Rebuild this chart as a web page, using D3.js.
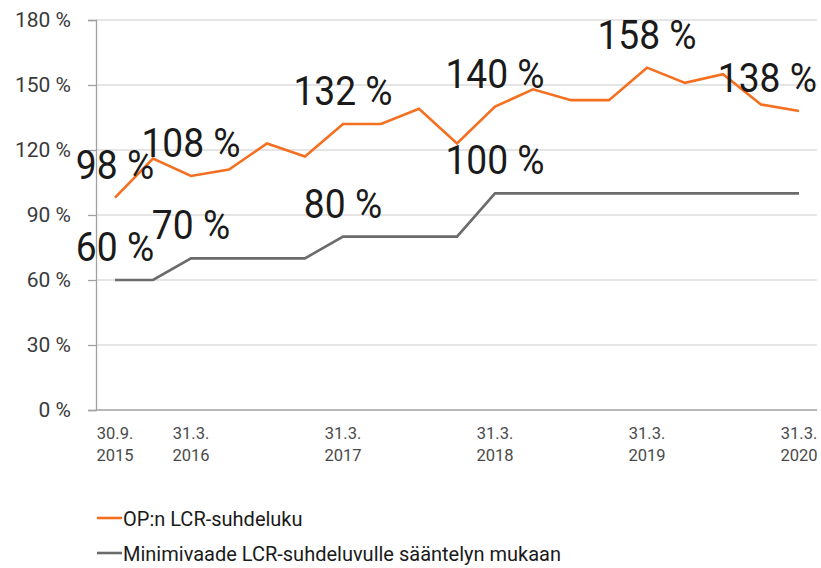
<!DOCTYPE html>
<html>
<head>
<meta charset="utf-8">
<script src="https://cdn.jsdelivr.net/npm/d3@7"></script>
<style>
  html, body { margin: 0; padding: 0; background: #fff; }
  svg { display: block; font-family: Roboto, "Open Sans", sans-serif; }
</style>
</head>
<body>
<svg id="chart" width="821" height="568"></svg>
<script>
// Quarter-end dates, 30.9.2015 – 31.3.2020
const quarters = [
  "30.9.2015", "31.12.2015", "31.3.2016", "30.6.2016", "30.9.2016", "31.12.2016",
  "31.3.2017", "30.6.2017", "30.9.2017", "31.12.2017", "31.3.2018", "30.6.2018",
  "30.9.2018", "31.12.2018", "31.3.2019", "30.6.2019", "30.9.2019", "31.12.2019",
  "31.3.2020"
];
// OP:n LCR-suhdeluku (%)
const lcrValues = [98, 116, 108, 111, 123, 117, 132, 132, 139, 123, 140, 148, 143, 143, 158, 151, 155, 141, 138];
// Minimivaade LCR-suhdeluvulle sääntelyn mukaan (%)
const minValues = [60, 60, 70, 70, 70, 70, 80, 80, 80, 80, 100, 100, 100, 100, 100, 100, 100, 100, 100];
// Quarters that carry a value label
const lcrLabelIdx = [0, 2, 6, 10, 14, 18];
const minLabelIdx = [0, 2, 6, 10];
// Axis tick labels
const yTicks = [0, 30, 60, 90, 120, 150, 180];
const xTickLabels = [
  { q: "30.9.2015", lines: ["30.9.", "2015"] },
  { q: "31.3.2016", lines: ["31.3.", "2016"] },
  { q: "31.3.2017", lines: ["31.3.", "2017"] },
  { q: "31.3.2018", lines: ["31.3.", "2018"] },
  { q: "31.3.2019", lines: ["31.3.", "2019"] },
  { q: "31.3.2020", lines: ["31.3.", "2020"] }
];
const seriesNames = ["OP:n LCR-suhdeluku", "Minimivaade LCR-suhdeluvulle sääntelyn mukaan"];

const ORANGE = "#f46f20";
const GREY = "#6b6b6b";

const svg = d3.select("#chart");
const plot = { left: 96, right: 818, top: 20, bottom: 410 };

const x = d3.scalePoint().domain(quarters).range([plot.left, plot.right]).padding(0.5);
const y = d3.scaleLinear().domain([0, 180]).range([plot.bottom, plot.top]);

// Horizontal gridlines
svg.append("g")
  .selectAll("line")
  .data(yTicks.filter(d => d > 0))
  .join("line")
  .attr("x1", plot.left).attr("x2", plot.right - 1)
  .attr("y1", d => y(d)).attr("y2", d => y(d))
  .attr("stroke", "#dcdcdc").attr("stroke-width", 1.3);

// Y axis
const yAxis = svg.append("g")
  .attr("transform", `translate(${plot.left},0)`)
  .call(d3.axisLeft(y).tickValues(yTicks).tickSize(8).tickPadding(17).tickFormat(d => d + " %"));
yAxis.select(".domain").attr("stroke", "#a0a0a0").attr("stroke-width", 1.3);
yAxis.selectAll(".tick line").attr("stroke", "#a0a0a0").attr("stroke-width", 1.3);
yAxis.selectAll(".tick text")
  .attr("font-family", "Roboto, sans-serif")
  .attr("font-size", 21).attr("fill", "#3a3a3a");

// X axis baseline
svg.append("line")
  .attr("x1", plot.left).attr("x2", plot.right - 1)
  .attr("y1", y(0)).attr("y2", y(0))
  .attr("stroke", "#a0a0a0").attr("stroke-width", 1.3);

// X tick labels (two lines each)
const xl = svg.append("g").selectAll("text")
  .data(xTickLabels)
  .join("text")
  .attr("x", d => x(d.q))
  .attr("text-anchor", "middle")
  .attr("font-size", 16.5).attr("fill", "#4a4a4a");
xl.each(function(d) {
  const t = d3.select(this);
  d.lines.forEach((ln, i) => {
    t.append("tspan").attr("x", x(d.q)).attr("y", 439 + i * 22).text(ln);
  });
});

// Lines
const line = d3.line().x((d, i) => x(quarters[i])).y(d => y(d));
svg.append("path").datum(minValues)
  .attr("d", line).attr("fill", "none")
  .attr("stroke", GREY).attr("stroke-width", 2.6).attr("stroke-linejoin", "miter");
svg.append("path").datum(lcrValues)
  .attr("d", line).attr("fill", "none")
  .attr("stroke", ORANGE).attr("stroke-width", 2.6).attr("stroke-linejoin", "miter");

// Value labels (slightly condensed)
function addLabels(values, idx) {
  svg.append("g").selectAll("text")
    .data(idx)
    .join("text")
    .attr("x", i => x(quarters[i]))
    .attr("y", i => y(values[i]) - 19)
    .attr("text-anchor", "middle")
    .attr("font-size", 40)
    .attr("fill", "#1a1a1a")
    .text(i => values[i] + " %")
    .each(function() {
      const sel = d3.select(this);
      const w = this.getComputedTextLength() * 0.93;
      sel.attr("textLength", w).attr("lengthAdjust", "spacingAndGlyphs");
      // keep labels inside the plot's right edge
      const cx = +sel.attr("x");
      if (cx + w / 2 > 817) sel.attr("x", 817 - w / 2);
    });
}
addLabels(minValues, minLabelIdx);
addLabels(lcrValues, lcrLabelIdx);

// Legend
const legend = svg.append("g");
[ORANGE, GREY].forEach((c, i) => {
  const yy = 518 + i * 35;
  legend.append("line")
    .attr("x1", 97).attr("x2", 122).attr("y1", yy).attr("y2", yy)
    .attr("stroke", c).attr("stroke-width", 2.6);
  legend.append("text")
    .attr("x", 123).attr("y", yy + 7.5)
    .attr("font-size", 20).attr("fill", "#1a1a1a")
    .text(seriesNames[i]);
});
</script>
</body>
</html>
